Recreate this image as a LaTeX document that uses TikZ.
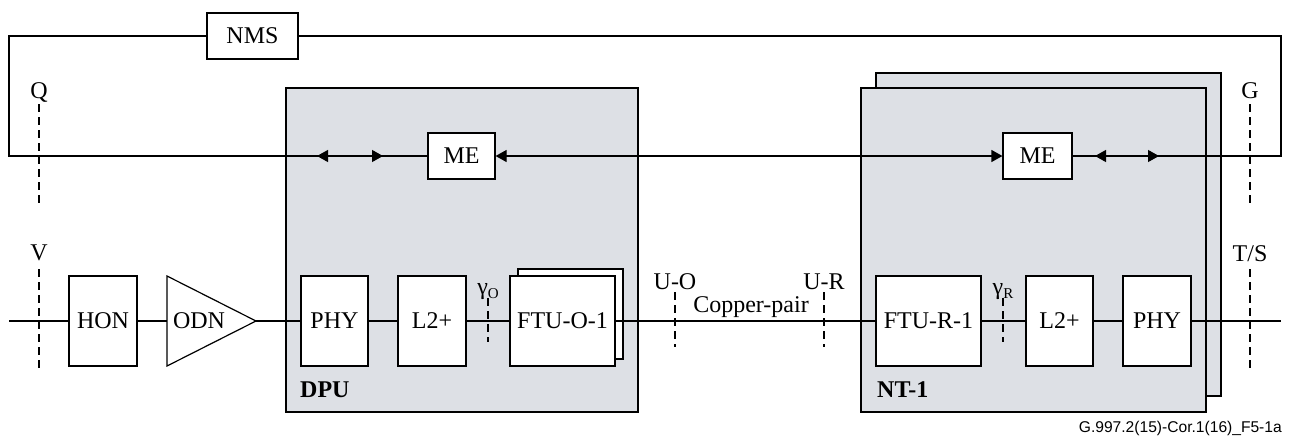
\documentclass[tikz,border=0pt]{standalone}
\usepackage{fontspec}
\setmainfont{Liberation Serif}
\newfontfamily\capfont{Liberation Sans}
\usetikzlibrary{arrows.meta}
\definecolor{boxgray}{RGB}{221,224,229}
\tikzset{
  txt/.style={font=\fontsize{24}{28}\selectfont},
  blk/.style={draw, fill=white, line width=1.2pt, inner sep=0pt, minimum height=90pt, txt},
  mebox/.style={draw, fill=white, line width=1.2pt, inner sep=0pt, minimum height=46pt, txt},
  unitbox/.style={draw, fill=boxgray, line width=1.2pt},
  wire/.style={line width=1.2pt},
  refline/.style={line width=1.1pt, dash pattern=on 8pt off 5pt},
  dblarrow/.style={{Triangle[length=11pt,width=12pt]}-{Triangle[length=11pt,width=12pt]}},
  lbl/.style={anchor=base, txt, inner sep=0pt},
  boldlbl/.style={anchor=base west, font=\fontsize{24}{28}\selectfont\bfseries, inner sep=0pt}
}
\begin{document}
\begin{tikzpicture}[x=1pt,y=-1pt]
\useasboundingbox (0,0) rectangle (1293,437);

% equipment units
\draw[unitbox] (876,73) rectangle (1221,396);
\draw[unitbox] (861,88) rectangle (1206,412);
\draw[unitbox] (286,88) rectangle (638,412);

% management
\node[mebox, minimum width=91pt] (nms) at (252.5,36) {NMS};
\node[mebox, minimum width=67pt] (meo) at (461.5,156) {ME};
\node[mebox, minimum width=69pt] (mer) at (1037.5,156) {ME};

% transmission chain
\node[blk, minimum width=68pt] (hon) at (103,321) {HON};
\draw[wire, fill=white] (167,276) -- (256,321) coordinate (odntip) -- (167,366) -- cycle;
\coordinate (odnl) at (167,321);
\node[txt] (odn) at (199,321) {ODN};
\node[blk, minimum width=67pt] (phyo) at (334.5,321) {PHY};
\node[blk, minimum width=68pt] (l2o) at (432,321) {L2+};
\node[blk, minimum width=105pt] (ftob) at (570.5,314) {};
\node[blk, minimum width=105pt] (fto) at (562.5,321) {FTU-O-1};
\node[blk, minimum width=105pt] (ftr) at (928.5,321) {FTU-R-1};
\node[blk, minimum width=67pt] (l2r) at (1059.5,321) {L2+};
\node[blk, minimum width=68pt] (phyr) at (1157,321) {PHY};

\coordinate (vin) at (9,321);
\coordinate (tsout) at (1281,321);
\draw[wire] (vin) -- (hon.west);
\draw[wire] (hon.east) -- (odnl);
\draw[wire] (odntip) -- (phyo.west);
\draw[wire] (phyo.east) -- (l2o.west);
\draw[wire] (l2o.east) -- (fto.west);
\draw[wire] (fto.east) -- (ftr.west);
\draw[wire] (ftr.east) -- (l2r.west);
\draw[wire] (l2r.east) -- (phyr.west);
\draw[wire] (phyr.east) -- (tsout);

% management loop
\coordinate (lc) at (9,156);
\coordinate (rc) at (1281,156);
\draw[wire] (nms.west) -| (lc) -- (meo.west);
\draw[wire] (nms.east) -| (rc) -- (mer.east);
\draw[wire, dblarrow] (meo.east) -- (mer.west);
\coordinate (al) at (317,156);
\coordinate (ar) at (383,156);
\coordinate (bl) at (1095,156);
\coordinate (br) at (1159,156);
\draw[wire, dblarrow] (al) -- (ar);
\draw[wire, dblarrow] (bl) -- (br);

% reference points
\node[lbl] (q) at (39,98) {Q};
\node[lbl] (g) at (1250,98) {G};
\node[lbl] (v) at (39,260) {V};
\node[lbl] (ts) at (1250,261) {T/S};
\node[lbl] (uo) at (675,289) {U-O};
\node[lbl] (ur) at (824,289) {U-R};
\node[lbl] (cp) at (751,312) {Copper-pair};
\node[lbl] (go) at (488,294) {γ\raisebox{-4pt}{\fontsize{15}{15}\selectfont O}};
\node[lbl] (gr) at (1003,294) {γ\raisebox{-4pt}{\fontsize{15}{15}\selectfont R}};

\draw[refline] (39,104) coordinate (q1) -- (39,207) coordinate (q2);
\draw[refline] (1250,104) coordinate (g1) -- (1250,207) coordinate (g2);
\draw[refline] (39,269) coordinate (v1) -- (39,372) coordinate (v2);
\draw[refline] (1250,269) coordinate (t1) -- (1250,372) coordinate (t2);
\draw[refline] (675,292) coordinate (uo1) -- (675,347) coordinate (uo2);
\draw[refline] (824,292) coordinate (ur1) -- (824,347) coordinate (ur2);
\draw[refline] (488,298) coordinate (go1) -- (488,342) coordinate (go2);
\draw[refline] (1003,298) coordinate (gr1) -- (1003,342) coordinate (gr2);

% unit names
\node[boldlbl] (dpu) at (300,397) {DPU};
\node[boldlbl] (nt) at (877,397) {NT-1};

% caption
\node[anchor=base east, inner sep=0pt, font=\capfont\fontsize{15.6}{18}\selectfont] (cap) at (1282,432) {G.997.2(15)-Cor.1(16)\_F5-1a};
\end{tikzpicture}
\end{document}
